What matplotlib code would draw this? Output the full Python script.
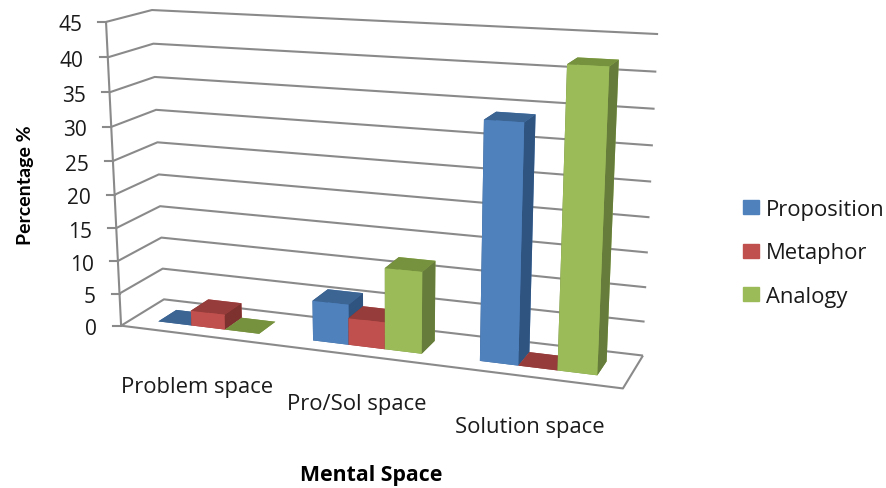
import numpy as np
import matplotlib
matplotlib.use("Agg")
import matplotlib.pyplot as plt
from matplotlib.lines import Line2D
from matplotlib.patches import Patch
from mpl_toolkits.mplot3d.art3d import Line3DCollection

categories = ["Problem space", "Pro/Sol space", "Solution space"]
series_names = ["Proposition", "Metaphor", "Analogy"]
proposition = [0, 6, 34]
metaphor = [2.3, 4, 0]
analogy = [0, 12, 42]
z_ticks = [0, 5, 10, 15, 20, 25, 30, 35, 40, 45]

W, H = 886, 489
plt.rcParams["font.family"] = ["Open Sans", "DejaVu Sans"]
grid_col = "#8a8a8a"
text_col = "#1a1a1a"
# front, top, side
colors = {
    "Proposition": ("#4f81bd", "#3c6594", "#2f5480"),
    "Metaphor": ("#c0504d", "#963d3b", "#7e3230"),
    "Analogy": ("#9bbb59", "#77923f", "#667c3a"),
}

# frame corners of the chart box: (category pos, depth, value) -> picture pixel
corners = [
    ((0, 0, 0), (122, 327)),
    ((0, 0, 45), (105, 23)),
    ((0, 1, 0), (163, 300)),
    ((0, 1, 45), (153, 11)),
    ((3, 1, 0), (643, 357)),
    ((3, 1, 45), (658, 35)),
    ((3, 0, 0), (623, 389)),
]
A, b = [], []
for (x, y, z), (u, v) in corners:
    A.append([x, y, z, 1, 0, 0, 0, 0, -u * x, -u * y, -u * z])
    A.append([0, 0, 0, 0, x, y, z, 1, -v * x, -v * y, -v * z])
    b += [u, v]
p = np.linalg.lstsq(np.array(A, float), np.array(b, float), rcond=None)[0]
M = np.array([
    [p[0], p[1], p[2], p[3]],
    [p[4], p[5], p[6], p[7]],
    [-0.1, 1.0, -0.001, 0.0],
    [p[8], p[9], p[10], 1.0],
])


def to_px(x, y, z):
    r = M @ np.array([x, y, z, 1.0])
    return r[0] / r[3], r[1] / r[3]


fig = plt.figure(figsize=(W / 100, H / 100), dpi=100)
# square axes bigger than the figure, 3d axes always go square
ax = fig.add_axes([0, (H - W) / 2 / H, 1, W / H], projection="3d")
ax.set_axis_off()
ax.computed_zorder = False
ax.get_proj = lambda: M
ax.viewLim.intervalx = (0, W)
ax.viewLim.intervaly = (H + (W - H) / 2, -(W - H) / 2)

segs = []
for t in z_ticks:
    segs.append([(0, 0, t), (0, 1, t), (3, 1, t)])
    u, v = to_px(0, 0, t)
    fig.add_artist(Line2D([u - 8, u], [H - v, H - v], color=grid_col, lw=1.5,
                          transform=None))
    fig.text((u - 24) / W, 1 - (v + 3) / H, str(t), ha="right", va="center",
             fontsize=15, color=text_col)
segs.append([(0, 0, 0), (3, 0, 0), (3, 1, 0)])
segs.append([(0, 0, 0), (0, 0, 45)])
ax.add_collection3d(Line3DCollection(segs, colors=grid_col, linewidths=1.5, zorder=1),
                    autolim=False)

bar_w = 0.22
y0, y1 = 0.27, 0.7
start = 0.17
zo = 2
for i in range(3):
    for j, (name, vals) in enumerate(zip(series_names, [proposition, metaphor, analogy])):
        front, top, side = colors[name]
        # faces: bottom, top, front, back, left, right
        ax.bar3d(i + start + j * bar_w, y0, 0, bar_w, y1 - y0, vals[i],
                 color=[top, top, front, front, side, side],
                 shade=False, zorder=zo)
        zo += 1

cat_pos = [(197, 388), (357, 405), (530, 428)]
for name, (u, v) in zip(categories, cat_pos):
    fig.text(u / W, 1 - v / H, name, ha="center", va="center", fontsize=15.8,
             color=text_col)

fig.text(371 / W, 1 - 476 / H, "Mental Space", ha="center", va="center",
         fontsize=15.3, fontweight="bold", color="black")
fig.text(26 / W, 1 - 185 / H, "Percentage %", ha="center", va="center",
         rotation=90, family="Lato", fontsize=14, fontweight="bold", color="black")

handles = [Patch(color=colors[n][0]) for n in series_names]
fig.legend(handles, series_names, loc="center left",
           bbox_to_anchor=(743 / W, 1 - 254 / H), frameon=False, fontsize=15.8,
           handlelength=0.73, handleheight=0.6, handletextpad=0.32,
           labelspacing=1.03, borderpad=0, borderaxespad=0, labelcolor=text_col)

fig.savefig("out.png", dpi=100)
